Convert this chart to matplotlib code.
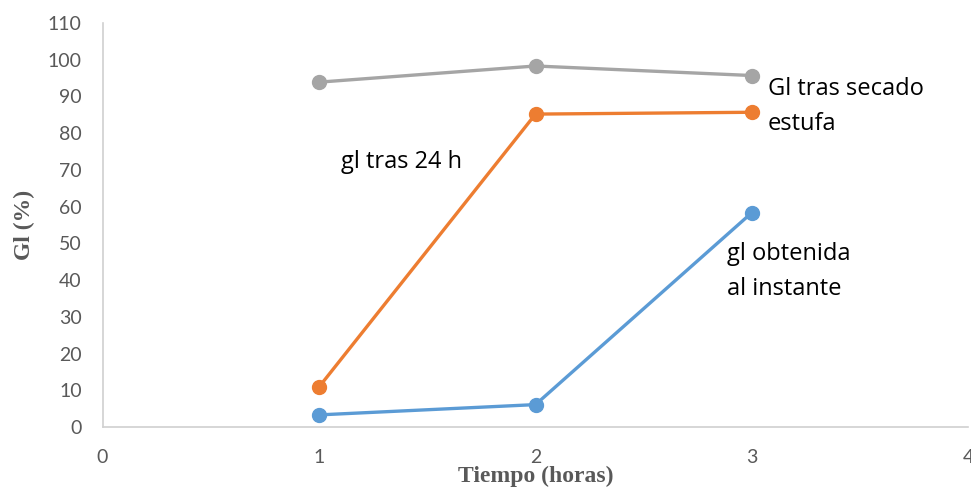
import matplotlib.pyplot as plt

# Data
tiempo = [1, 2, 3]
gl_instante = [3.3, 6.1, 58.4]
gl_24h = [10.9, 85.2, 85.7]
gl_estufa = [93.9, 98.3, 95.7]

x_ticks = [0, 1, 2, 3, 4]
y_ticks = list(range(0, 111, 10))

fig = plt.figure(figsize=(9.71, 4.94), dpi=100)
ax = fig.add_axes([0.1056, 0.1356, 0.8918, 0.8178])

ax.plot(tiempo, gl_instante, color='#5B9BD5', lw=2.4, marker='o', ms=10)
ax.plot(tiempo, gl_24h, color='#ED7D31', lw=2.4, marker='o', ms=10)
ax.plot(tiempo, gl_estufa, color='#A5A5A5', lw=2.4, marker='o', ms=10)

ax.set_xlim(0, 4)
ax.set_ylim(0, 110)
ax.set_xticks(x_ticks)
ax.set_yticks(y_ticks)
ax.tick_params(length=0, labelsize=14, labelcolor='#595959')
ax.tick_params(axis='y', pad=15)
ax.tick_params(axis='x', pad=16)
for lab in ax.get_xticklabels() + ax.get_yticklabels():
    lab.set_family('Lato')

for s in ['top', 'right']:
    ax.spines[s].set_visible(False)
for s in ['left', 'bottom']:
    ax.spines[s].set_color('#D0D0D0')
    ax.spines[s].set_linewidth(1.2)

ax.set_xlabel('Tiempo (horas)', family='Liberation Serif', fontweight='bold',
              fontsize=17, color='#595959', labelpad=0)
ax.set_ylabel('Gl (%)', family='Liberation Serif', fontweight='bold',
              fontsize=17, color='#595959', labelpad=9)

# Series labels, one line at a time (baseline positions in data units)
lbl = dict(fontsize=17, family='Open Sans', va='baseline', ha='left')
ax.text(3.074, 90.4, 'Gl tras secado', **lbl)
ax.text(3.074, 80.9, 'estufa', **lbl)
ax.text(1.10, 70.5, 'gl tras 24 h', **lbl)
ax.text(2.885, 45.5, 'gl obtenida', **lbl)
ax.text(2.885, 35.9, 'al instante', **lbl)

fig.savefig('out.png', dpi=100)
